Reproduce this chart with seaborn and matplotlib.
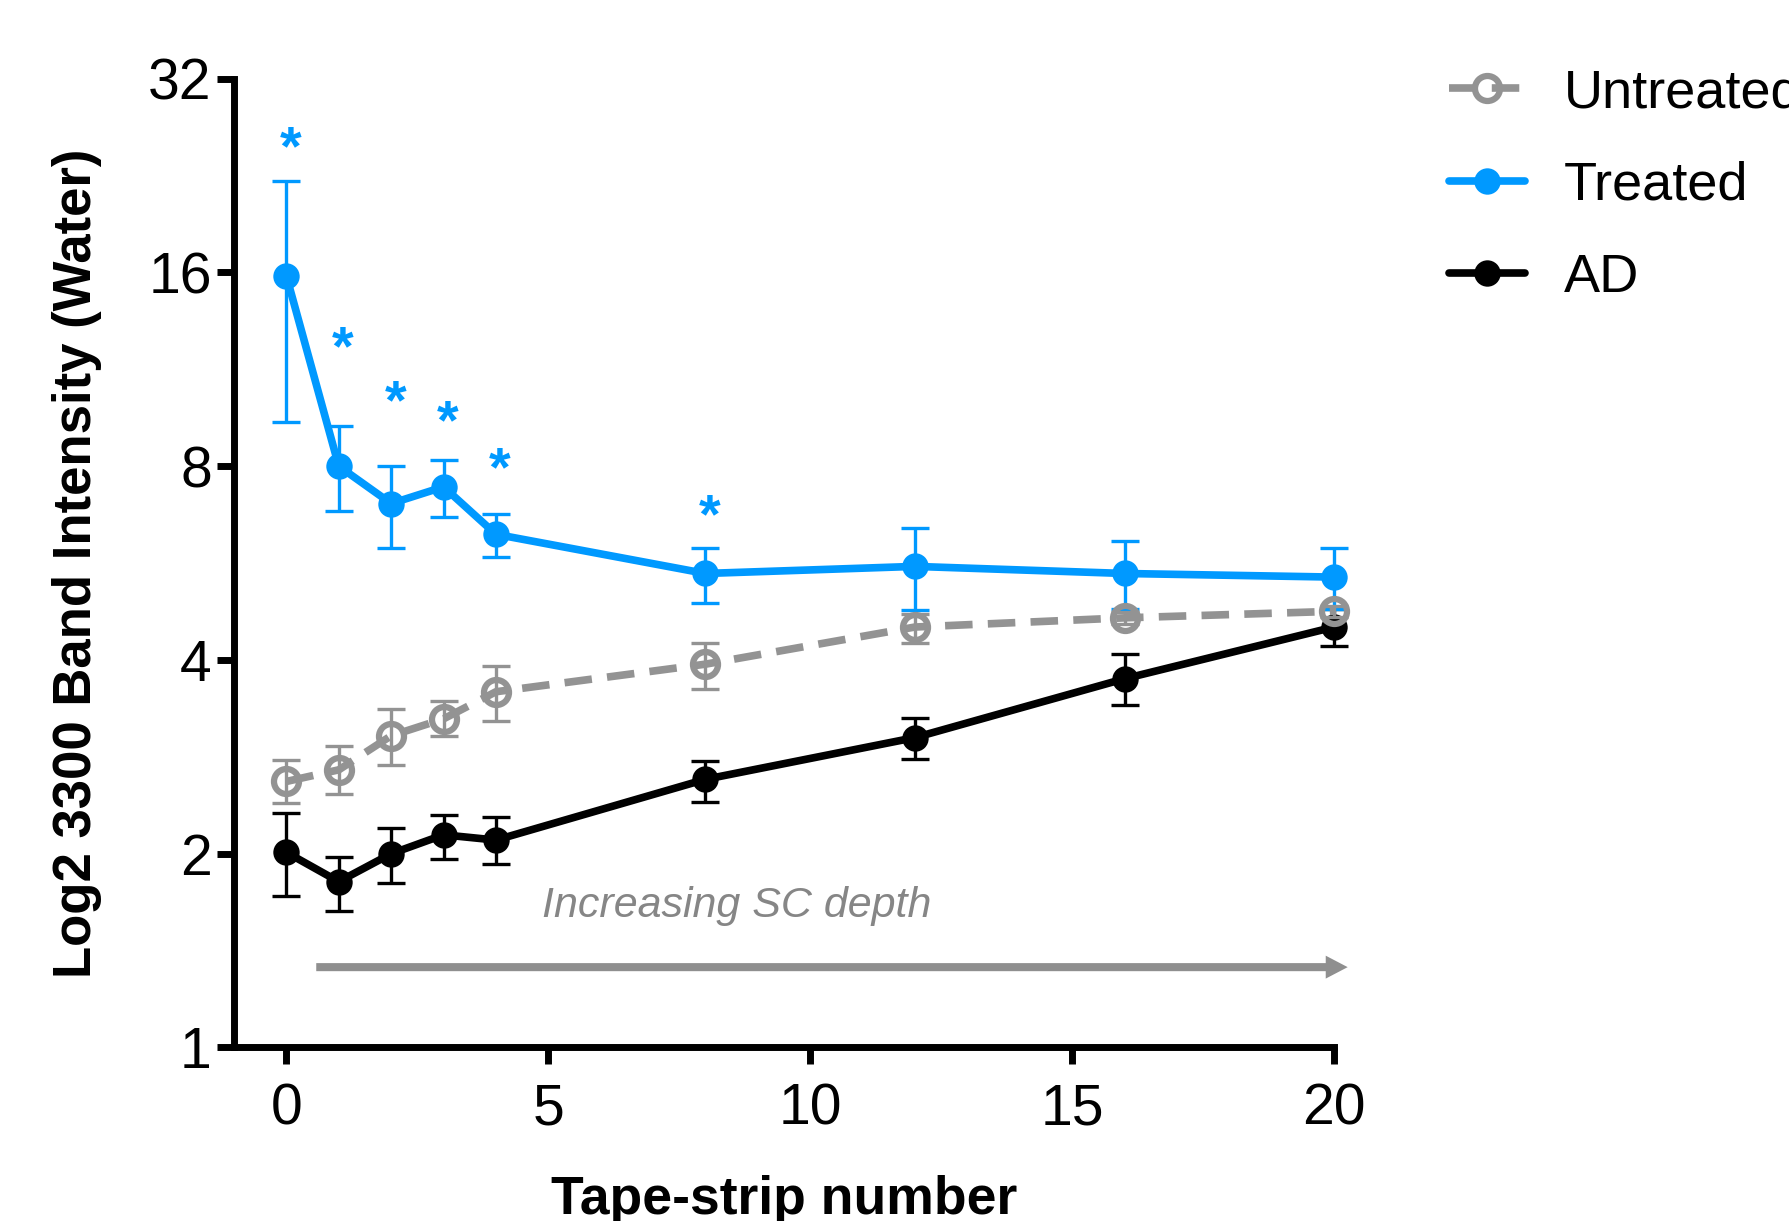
import matplotlib
matplotlib.use("Agg")
import matplotlib.pyplot as plt
from matplotlib.lines import Line2D
import seaborn as sns
import pandas as pd
import numpy as np

# ---------------- data ----------------
strip = [0, 1, 2, 3, 4, 8, 12, 16, 20]

untreated_mean = [2.59, 2.70, 3.05, 3.24, 3.57, 3.94, 4.50, 4.65, 4.76]
untreated_low = [2.40, 2.48, 2.75, 3.05, 3.22, 3.61, 4.25, 4.55, 4.66]
untreated_high = [2.80, 2.94, 3.36, 3.45, 3.91, 4.25, 4.71, 4.75, 4.86]

treated_mean = [15.8, 8.0, 7.0, 7.43, 6.27, 5.45, 5.59, 5.45, 5.38]
treated_low = [9.38, 6.81, 5.97, 6.67, 5.78, 4.91, 4.79, 4.80, 4.80]
treated_high = [22.2, 9.22, 8.0, 8.18, 6.75, 5.96, 6.42, 6.13, 5.97]

ad_mean = [2.01, 1.81, 2.00, 2.14, 2.10, 2.61, 3.03, 3.74, 4.50]
ad_low = [1.72, 1.63, 1.80, 1.96, 1.93, 2.41, 2.81, 3.41, 4.21]
ad_high = [2.31, 1.98, 2.19, 2.30, 2.28, 2.79, 3.25, 4.08, 4.80]

sig_x = [0, 1, 2, 3, 4, 8]
sig_y = [25.8, 12.6, 10.4, 9.68, 8.17, 6.92]

y_ticks = [1, 2, 4, 8, 16, 32]
x_ticks = [0, 5, 10, 15, 20]

groups = ["Untreated", "Treated", "AD"]
colors = {"Untreated": "#939393", "Treated": "#0099FF", "AD": "#000000"}

df = pd.concat([
    pd.DataFrame({"strip": strip, "value": untreated_mean, "lo": untreated_low,
                  "hi": untreated_high, "group": "Untreated"}),
    pd.DataFrame({"strip": strip, "value": treated_mean, "lo": treated_low,
                  "hi": treated_high, "group": "Treated"}),
    pd.DataFrame({"strip": strip, "value": ad_mean, "lo": ad_low,
                  "hi": ad_high, "group": "AD"}),
], ignore_index=True)

# ---------------- style ----------------
sns.set_style("ticks")
plt.rcParams["font.family"] = ["Liberation Sans", "DejaVu Sans"]
plt.rcParams["text.color"] = "black"
plt.rcParams["axes.labelcolor"] = "black"
plt.rcParams["xtick.color"] = "black"
plt.rcParams["ytick.color"] = "black"

fig = plt.figure(figsize=(17.89, 12.21), dpi=100)
ax = fig.add_axes([0.1308, 0.1421, 0.6149, 0.7935])

LW = 5.5
style = {
    "AD": dict(marker="o", markersize=19, markerfacecolor="#000000",
               markeredgecolor="#000000", markeredgewidth=0, dashes=None, z=3),
    "Treated": dict(marker="o", markersize=19, markerfacecolor="#0099FF",
                    markeredgecolor="#0099FF", markeredgewidth=0, dashes=None, z=4),
    "Untreated": dict(marker="o", markersize=18, markerfacecolor="none",
                      markeredgecolor="#939393", markeredgewidth=4.5,
                      dashes=(3.6, 2.0), z=5),
}

for g in ["AD", "Treated", "Untreated"]:
    sub = df[df["group"] == g]
    st = style[g]
    ax.errorbar(sub["strip"], sub["value"],
                yerr=[sub["value"] - sub["lo"], sub["hi"] - sub["value"]],
                fmt="none", ecolor=colors[g], elinewidth=2.4, capsize=10,
                capthick=2.4, zorder=st["z"], clip_on=False)
    kw = dict(marker=st["marker"], markersize=st["markersize"],
              markerfacecolor=st["markerfacecolor"],
              markeredgecolor=st["markeredgecolor"],
              markeredgewidth=st["markeredgewidth"], clip_on=False,
              zorder=st["z"] + 0.5)
    if st["dashes"] is not None:
        kw["dashes"] = st["dashes"]
    sns.lineplot(data=sub, x="strip", y="value", color=colors[g],
                 linewidth=LW, estimator=None, sort=False, ax=ax,
                 legend=False, **kw)

ax.set_yscale("log", base=2)
ax.set_ylim(1, 32)
ax.set_xlim(-1, 20)
ax.set_yticks(y_ticks)
ax.set_yticklabels([str(t) for t in y_ticks])
ax.minorticks_off()
ax.set_xticks(x_ticks)
ax.set_xticklabels([str(t) for t in x_ticks])

for s in ["top", "right"]:
    ax.spines[s].set_visible(False)
for s in ["left", "bottom"]:
    ax.spines[s].set_linewidth(5)
    ax.spines[s].set_color("black")
ax.tick_params(axis="both", width=5, length=12, labelsize=41, color="black",
               labelcolor="black")
ax.tick_params(axis="x", pad=13)
ax.tick_params(axis="y", pad=4)

ax.set_xlabel("Tape-strip number", fontsize=38.5, fontweight="bold",
              labelpad=28, color="black")
ax.set_ylabel("Log2 3300 Band Intensity (Water)", fontsize=38,
              fontweight="bold", labelpad=33, color="black")

# significance asterisks
for xs, ys in zip(sig_x, sig_y):
    ax.annotate("*", xy=(xs, ys), xytext=(3, -8), textcoords="offset points",
                ha="center", va="center", fontsize=40, fontweight="bold",
                color="#0099FF")

# depth arrow and label
ax.annotate("", xy=(20.26, 1.333), xytext=(0.57, 1.333),
            arrowprops=dict(width=5.8, headwidth=16.5, headlength=15.8,
                            facecolor="#8f8f8f", edgecolor="none", shrink=0),
            annotation_clip=False)
ax.text(8.6, 1.593, "Increasing SC depth", fontsize=31, style="italic",
        color="#868686", ha="center", va="baseline")

# legend
handles = []
for g in groups:
    st = style[g]
    kw = dict(color=colors[g], lw=LW, marker="o", markersize=st["markersize"],
              markerfacecolor=st["markerfacecolor"],
              markeredgecolor=st["markeredgecolor"],
              markeredgewidth=st["markeredgewidth"])
    if st["dashes"] is not None:
        kw["dashes"] = st["dashes"]
    handles.append(Line2D([], [], **kw))
fig.legend(handles, groups, loc="upper left", bbox_to_anchor=(0.81, 0.944),
           frameon=False, fontsize=39, handlelength=1.4, handletextpad=0.72,
           labelspacing=0.78, borderpad=0, borderaxespad=0, numpoints=1,
           labelcolor="black")

fig.savefig("out.png", dpi=100)
